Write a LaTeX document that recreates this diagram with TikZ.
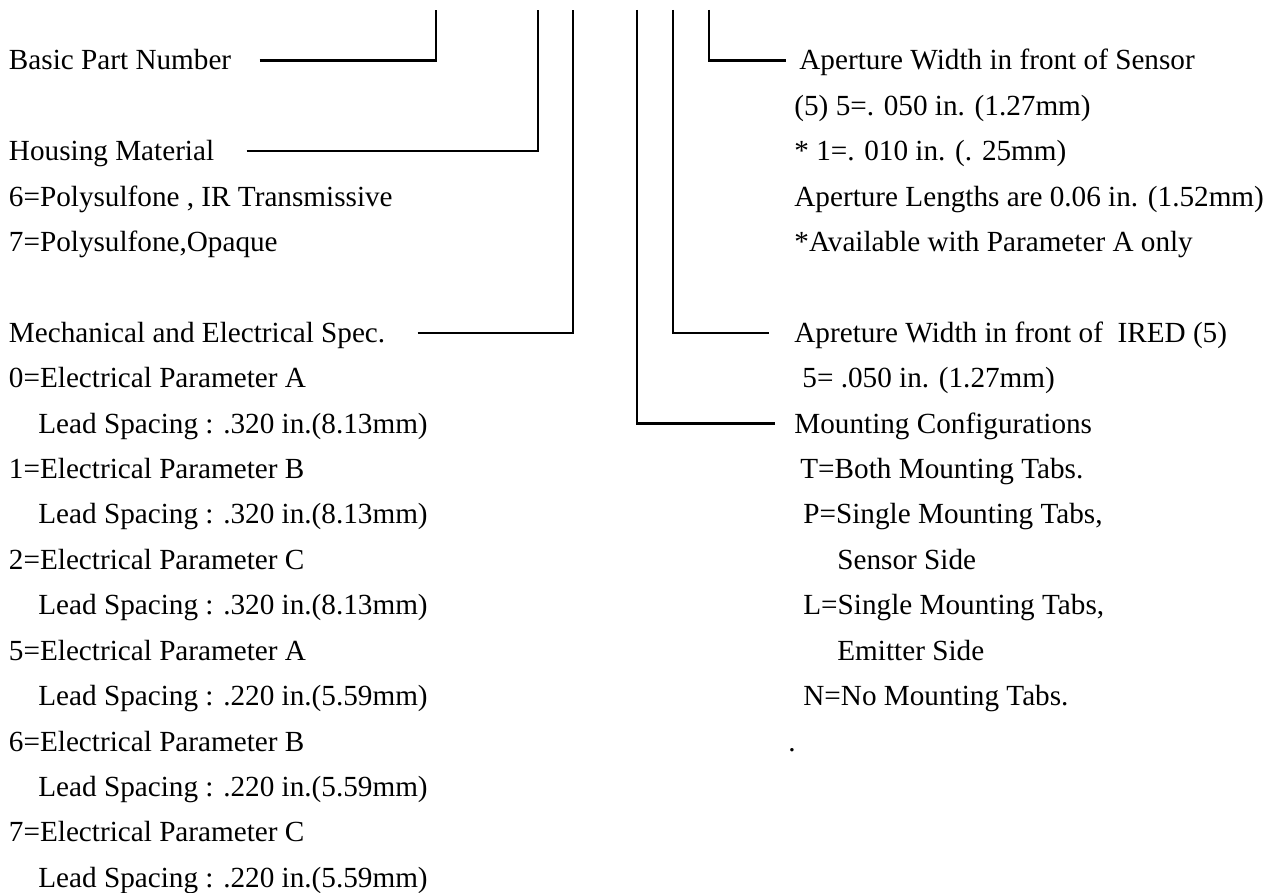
\documentclass[tikz,border=0pt]{standalone}
\usepackage{fontspec}
\setmainfont{Liberation Serif}
\usetikzlibrary{positioning}

\begin{document}
\begin{tikzpicture}[
    x=1pt, y=1pt,
    node distance=22.7pt,
    txt/.style={inner sep=0pt, anchor=base west, text height=12pt, text depth=2.5pt, font=\fontsize{14.6}{17}\selectfont},
    lead/.style={line width=1.2pt}
]
\useasboundingbox (0,0) rectangle (638,-446.5);

% Tops of the leader lines
\coordinate (cBasic) at (218,-5);
\coordinate (cHousing) at (269,-5);
\coordinate (cMech) at (286.5,-5);
\coordinate (cMount) at (318.5,-5);
\coordinate (cIred) at (336.5,-5);
\coordinate (cSensor) at (354.5,-5);

% Left column
\node[txt] (basic) at (4.3,-35) {Basic Part Number};
\node[txt, below=45.4pt of basic.base west, anchor=base west] (housing) {Housing Material};
\node[txt, below=of housing.base west, anchor=base west] (mat6) {6=Polysulfone , IR Transmissive};
\node[txt, below=of mat6.base west, anchor=base west] (mat7) {7=Polysulfone,Opaque};

\node[txt, below=45.4pt of mat7.base west, anchor=base west] (mech) {Mechanical and Electrical Spec.};
\node[txt, below=of mech.base west, anchor=base west] (e0) {0=Electrical Parameter A};
\node[txt, below=of e0.base west, anchor=base west, xshift=14.7pt] (l0) {Lead Spacing : .320 in.(8.13mm)};
\node[txt, below=45.4pt of e0.base west, anchor=base west] (e1) {1=Electrical Parameter B};
\node[txt, below=of e1.base west, anchor=base west, xshift=14.7pt] (l1) {Lead Spacing : .320 in.(8.13mm)};
\node[txt, below=45.4pt of e1.base west, anchor=base west] (e2) {2=Electrical Parameter C};
\node[txt, below=of e2.base west, anchor=base west, xshift=14.7pt] (l2) {Lead Spacing : .320 in.(8.13mm)};
\node[txt, below=45.4pt of e2.base west, anchor=base west] (e5) {5=Electrical Parameter A};
\node[txt, below=of e5.base west, anchor=base west, xshift=14.7pt] (l5) {Lead Spacing : .220 in.(5.59mm)};
\node[txt, below=45.4pt of e5.base west, anchor=base west] (e6) {6=Electrical Parameter B};
\node[txt, below=of e6.base west, anchor=base west, xshift=14.7pt] (l6) {Lead Spacing : .220 in.(5.59mm)};
\node[txt, below=45.4pt of e6.base west, anchor=base west] (e7) {7=Electrical Parameter C};
\node[txt, below=of e7.base west, anchor=base west, xshift=14.7pt] (l7) {Lead Spacing : .220 in.(5.59mm)};

% Right column
\node[txt] (sensor) at (399.5,-35) {Aperture Width in front of Sensor};
\node[txt, below=of sensor.base west, anchor=base west, xshift=-2.5pt] (sw5) {(5) 5=. 050 in. (1.27mm)};
\node[txt, below=of sw5.base west, anchor=base west] (sw1) {* 1=. 010 in. (. 25mm)};
\node[txt, below=of sw1.base west, anchor=base west] (aplen) {Aperture Lengths are 0.06 in. (1.52mm)};
\node[txt, below=of aplen.base west, anchor=base west] (avail) {*Available with Parameter A only};

\node[txt, below=45.4pt of avail.base west, anchor=base west] (ired) {Apreture Width in front of\ \ IRED (5)};
\node[txt, below=of ired.base west, anchor=base west, xshift=4pt] (iw5) {5= .050 in. (1.27mm)};
\node[txt, below=of iw5.base west, anchor=base west, xshift=-4pt] (mount) {Mounting Configurations};
\node[txt, below=of mount.base west, anchor=base west, xshift=3pt] (mtT) {T=Both Mounting Tabs.};
\node[txt, below=of mtT.base west, anchor=base west, xshift=1.5pt] (mtP) {P=Single Mounting Tabs,};
\node[txt, below=of mtP.base west, anchor=base west, xshift=17pt] (mtPs) {Sensor Side};
\node[txt, below=of mtPs.base west, anchor=base west, xshift=-17pt] (mtL) {L=Single Mounting Tabs,};
\node[txt, below=of mtL.base west, anchor=base west, xshift=17pt] (mtLs) {Emitter Side};
\node[txt, below=of mtLs.base west, anchor=base west, xshift=-17pt] (mtN) {N=No Mounting Tabs.};
\node[txt, below=of mtN.base west, anchor=base west, xshift=-7.5pt] (dot) {.};

% Leaders
\draw[lead] ([xshift=14pt]basic.east) -| (cBasic);
\draw[lead] ([xshift=16pt]housing.east) -| (cHousing);
\draw[lead] ([xshift=16pt]mech.east) -| (cMech);
\draw[lead] (cMount) |- ([xshift=-9.5pt]mount.west);
\draw[lead] (cIred) |- ([xshift=-12.5pt]ired.west);
\draw[lead] (cSensor) |- ([xshift=-6.5pt]sensor.west);

\end{tikzpicture}
\end{document}
